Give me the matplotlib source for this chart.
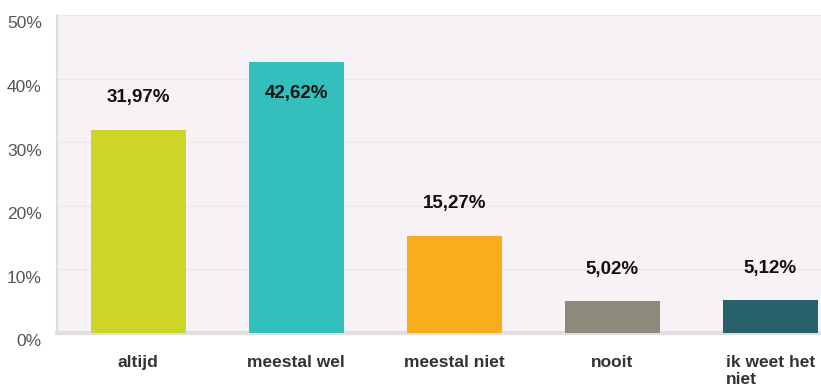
import matplotlib
matplotlib.use("Agg")
import matplotlib.pyplot as plt
import matplotlib.transforms as mtransforms

categories = ["altijd", "meestal wel", "meestal niet", "nooit", "ik weet het\nniet"]
values = [31.97, 42.62, 15.27, 5.02, 5.12]
value_labels = ["31,97%", "42,62%", "15,27%", "5,02%", "5,12%"]
colors = ["#cdd627", "#33bfbc", "#f8ad1d", "#8c8a7b", "#29616a"]
yticks = [0, 10, 20, 30, 40, 50]
ytick_labels = ["0%", "10%", "20%", "30%", "40%", "50%"]

plt.rcParams['font.family'] = ['Liberation Sans', 'DejaVu Sans']

W, H = 821, 387
fig = plt.figure(figsize=(W / 100, H / 100), dpi=100)
fig.patch.set_facecolor("white")
ax = fig.add_axes([57 / W, 1 - 333 / H, (W - 57) / W, (333 - 15) / H])
ax.set_facecolor("#f6f2f6")

x = list(range(len(categories)))
ax.bar(x, values, width=0.6, color=colors, zorder=3)

ax.set_ylim(0, 50)
ax.set_xlim(-0.513, 4.32)
ax.set_yticks(yticks)
ax.set_yticklabels(ytick_labels, fontsize=12.5, color="#555555")
ax.tick_params(axis="y", length=0, pad=11)
off = mtransforms.ScaledTranslation(0, -7.5 / 100, fig.dpi_scale_trans)
for lab in ax.get_yticklabels():
    lab.set_transform(lab.get_transform() + off)

ax.set_xticks(x)
ax.set_xticklabels(categories, fontsize=12.5, fontweight="bold", color="#333333",
                   multialignment="left", linespacing=1.15)
ax.tick_params(axis="x", length=0, pad=16)

ax.grid(axis="y", color="#ebe7eb", linewidth=1, zorder=0)
ax.set_axisbelow(True)

for s in ["top", "right"]:
    ax.spines[s].set_visible(False)
ax.spines["left"].set_color("#dedcde")
ax.spines["left"].set_linewidth(1.5)
ax.spines["bottom"].set_color("#e0dfe0")
ax.spines["bottom"].set_linewidth(3)

imax = values.index(max(values))
for i, (v, lbl) in enumerate(zip(values, value_labels)):
    dy = -32 if i == imax else 32
    ax.annotate(lbl, (i, v), xytext=(0, dy), textcoords="offset pixels",
                ha="center", va="center", fontsize=13.5, fontweight="bold",
                color="#111111", zorder=4)

fig.savefig("out.png", dpi=100, facecolor="white")
